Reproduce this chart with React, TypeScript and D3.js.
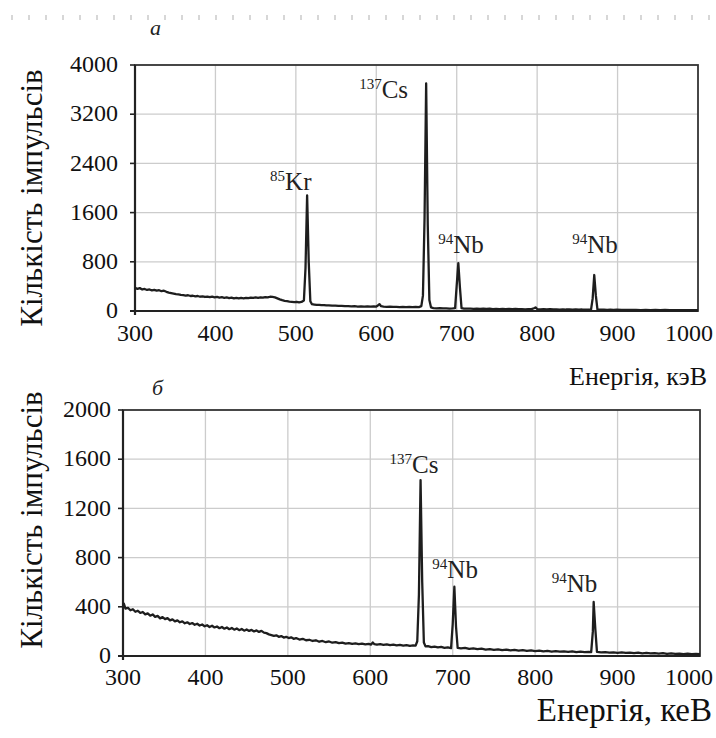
import React from "react";
import * as d3 from "d3";

// ---------- DATA ----------
const energyTicks = [300, 400, 500, 600, 700, 800, 900, 1000];
const countTicksA = [0, 800, 1600, 2400, 3200, 4000];
const countTicksB = [0, 400, 800, 1200, 1600, 2000];

// spectrum (a): [energy keV, counts]
const spectrumA: [number, number][] = [
  [300, 375], [303, 360], [306, 372], [309, 350], [312, 358], [315, 342], [318, 350], [321, 336],
  [324, 344], [327, 330], [330, 338], [333, 322], [336, 330], [339, 312], [342, 300], [345, 292],
  [348, 284], [351, 276], [354, 270], [357, 262], [360, 258], [363, 250], [366, 256], [369, 244],
  [372, 248], [375, 238], [378, 244], [381, 232], [384, 238], [387, 228], [390, 234], [393, 224],
  [396, 232], [399, 222], [402, 228], [405, 218], [408, 224], [411, 214], [414, 220], [417, 210],
  [420, 218], [423, 206], [426, 214], [429, 204], [432, 212], [435, 206], [438, 214], [441, 208],
  [444, 218], [447, 212], [450, 220], [453, 214], [456, 222], [459, 216], [462, 226], [465, 220],
  [468, 232], [471, 228], [474, 222], [477, 206], [480, 190], [483, 176], [486, 166], [489, 160],
  [492, 154], [495, 150], [498, 146], [501, 150], [504, 142], [507, 148], [510, 170], [512, 700],
  [514, 1880], [516, 800], [518, 160], [520, 110], [523, 104], [526, 98], [529, 100], [532, 94],
  [535, 96], [538, 90], [541, 92], [545, 86], [549, 88], [553, 82], [557, 84], [561, 78],
  [565, 80], [569, 76], [573, 78], [577, 72], [581, 75], [585, 70], [589, 73], [593, 70],
  [597, 74], [600, 72], [602, 90], [604, 112], [606, 78], [609, 70], [613, 68], [617, 70],
  [621, 66], [625, 68], [629, 64], [633, 66], [637, 62], [641, 65], [645, 62], [649, 66],
  [653, 64], [656, 80], [658, 250], [660, 1500], [662, 3700], [664, 1400], [666, 180], [668, 60],
  [671, 48], [675, 44], [679, 46], [683, 42], [687, 44], [691, 40], [695, 42], [698, 46],
  [700, 420], [702, 780], [704, 380], [706, 48], [709, 40], [713, 38], [717, 40], [721, 36],
  [725, 38], [729, 36], [733, 40], [737, 34], [741, 38], [745, 32], [749, 36], [753, 32],
  [757, 35], [761, 30], [765, 34], [769, 30], [773, 33], [777, 29], [781, 32], [785, 28],
  [789, 31], [793, 30], [796, 45], [798, 58], [800, 32], [804, 28], [808, 30], [812, 26],
  [816, 29], [820, 25], [824, 28], [828, 24], [832, 27], [836, 24], [840, 26], [844, 22],
  [848, 25], [852, 22], [856, 24], [860, 21], [864, 24], [867, 22], [869, 200], [871, 585],
  [873, 250], [875, 24], [879, 20], [883, 22], [887, 19], [891, 21], [895, 18], [899, 20],
  [905, 17], [911, 19], [917, 16], [923, 18], [929, 15], [935, 17], [941, 15], [947, 16],
  [953, 14], [959, 16], [965, 13], [971, 15], [977, 13], [983, 14], [989, 12], [995, 14], [1000, 13],
];

// spectrum (б)
const spectrumB: [number, number][] = [
  [300, 395], [301, 425], [303, 385], [306, 392], [309, 372], [312, 380], [315, 360], [318, 368],
  [321, 350], [324, 358], [327, 338], [330, 346], [333, 328], [336, 338], [339, 318], [342, 326],
  [345, 306], [348, 316], [351, 300], [354, 308], [357, 290], [360, 298], [363, 282], [366, 290],
  [369, 274], [372, 282], [375, 266], [378, 274], [381, 260], [384, 268], [387, 254], [390, 262],
  [393, 248], [396, 256], [399, 242], [402, 250], [405, 236], [408, 246], [411, 232], [414, 240],
  [417, 226], [420, 236], [423, 222], [426, 232], [429, 218], [432, 228], [435, 214], [438, 224],
  [441, 210], [444, 220], [447, 206], [450, 216], [453, 204], [456, 212], [459, 200], [462, 208],
  [465, 196], [468, 204], [471, 190], [474, 186], [477, 176], [480, 170], [483, 164], [486, 168],
  [489, 156], [492, 162], [495, 150], [498, 156], [501, 146], [504, 152], [507, 140], [510, 146],
  [514, 134], [518, 140], [522, 128], [526, 132], [530, 122], [534, 128], [538, 116], [542, 122],
  [546, 112], [550, 118], [554, 108], [558, 112], [562, 104], [566, 108], [570, 100], [574, 104],
  [578, 98], [582, 102], [586, 96], [590, 100], [594, 94], [598, 98], [601, 92], [603, 110],
  [605, 96], [608, 92], [612, 96], [616, 90], [620, 94], [624, 88], [628, 92], [632, 86],
  [636, 90], [640, 84], [644, 88], [648, 82], [652, 86], [655, 84], [657, 120], [659, 500],
  [661, 1430], [663, 600], [665, 110], [667, 78], [670, 80], [674, 72], [678, 76], [682, 70],
  [686, 74], [690, 66], [694, 70], [698, 64], [700, 260], [702, 563], [704, 240], [706, 66],
  [710, 62], [715, 66], [720, 58], [725, 62], [730, 56], [735, 60], [740, 52], [745, 56],
  [750, 50], [755, 54], [760, 48], [765, 52], [770, 46], [775, 50], [780, 44], [785, 48],
  [790, 42], [795, 46], [800, 40], [805, 44], [810, 38], [815, 42], [820, 36], [825, 40],
  [830, 36], [835, 38], [840, 34], [845, 38], [850, 32], [855, 36], [860, 32], [865, 34],
  [868, 32], [870, 200], [871, 439], [873, 220], [875, 34], [880, 30], [885, 32], [890, 28],
  [895, 30], [900, 26], [905, 30], [910, 26], [915, 28], [920, 24], [925, 28], [930, 22],
  [935, 26], [940, 22], [945, 24], [950, 20], [955, 24], [960, 18], [965, 22], [970, 18],
  [975, 20], [980, 16], [985, 20], [990, 16], [995, 18], [1000, 16],
];

// peak labels: [mass number, element, energy, counts]
const peaksA: [string, string, number, number][] = [
  ["85", "Kr", 514, 1880],
  ["137", "Cs", 662, 3700],
  ["94", "Nb", 702, 780],
  ["94", "Nb", 871, 585],
];
const peaksB: [string, string, number, number][] = [
  ["137", "Cs", 661, 1430],
  ["94", "Nb", 702, 563],
  ["94", "Nb", 871, 439],
];

const yTitle = "Кількість імпульсів";
const xTitleA = "Енергія, кэВ";
const xTitleB = "Енергія, кеВ";
const panelTitleA = "а";
const panelTitleB = "б";

// ---------- LAYOUT ----------
const W = 716;
const H = 738;
const FONT = "'Liberation Serif', 'Times New Roman', serif";

// label offsets (px) relative to peak top: [dx of text start, dy of baseline]
const labelOffsetsA: [number, number][] = [[-37, -5], [-67, 15], [-20, -10], [-22, -22]];
const labelOffsetsB: [number, number][] = [[-31, -7], [-22, -9], [-42, -10]];

type PanelProps = {
  data: [number, number][];
  yTicks: number[];
  yMax: number;
  left: number;
  right: number;
  top: number;
  bottom: number;
  peaks: [string, string, number, number][];
  offsets: [number, number][];
  tickLabelRight: number;
  xLabelBaseline: number;
};

function Panel(p: PanelProps) {
  const x = d3.scaleLinear().domain([300, 1000]).range([p.left, p.right]);
  const y = d3.scaleLinear().domain([0, p.yMax]).range([p.bottom, p.top]);
  const line = d3
    .line<[number, number]>()
    .x((d) => x(d[0]))
    .y((d) => y(d[1]));
  return (
    <g>
      {energyTicks.slice(1, -1).map((t) => (
        <line key={"vx" + t} x1={x(t)} x2={x(t)} y1={p.top} y2={p.bottom} stroke="#cccccc" strokeWidth={1.3} />
      ))}
      {p.yTicks.slice(1, -1).map((t) => (
        <line key={"hy" + t} x1={p.left} x2={p.right} y1={y(t)} y2={y(t)} stroke="#cccccc" strokeWidth={1.3} />
      ))}
      <rect x={p.left} y={p.top} width={p.right - p.left} height={p.bottom - p.top} fill="none" stroke="#333" strokeWidth={1.8} />
      <line x1={p.left} x2={p.left} y1={p.top} y2={p.bottom + 4} stroke="#222" strokeWidth={2.2} />
      <line x1={p.left - 5} x2={p.right} y1={p.bottom} y2={p.bottom} stroke="#222" strokeWidth={2.2} />
      {p.yTicks.map((t) => (
        <line key={"ty" + t} x1={p.left - 5} x2={p.left} y1={y(t)} y2={y(t)} stroke="#222" strokeWidth={1.6} />
      ))}
      <path d={line(p.data) || ""} fill="none" stroke="#1e1e1e" strokeWidth={2.3} strokeLinejoin="round" />
      {p.yTicks.map((t) => (
        <text key={"ly" + t} x={p.tickLabelRight} y={y(t)} dy="0.3em" textAnchor="end" fontSize={24} fontFamily={FONT} fill="#111">
          {t}
        </text>
      ))}
      {energyTicks.map((t, i) => {
        const last = i === energyTicks.length - 1;
        return (
          <text
            key={"lx" + t}
            x={last ? Math.min(x(t) + 22, 713) : x(t)}
            y={p.xLabelBaseline}
            textAnchor={last ? "end" : "middle"}
            fontSize={24}
            fontFamily={FONT}
            fill="#111"
          >
            {t}
          </text>
        );
      })}
      {p.peaks.map((pk, i) => (
        <text key={"pk" + i} x={x(pk[2]) + p.offsets[i][0]} y={y(pk[3]) + p.offsets[i][1]} fontFamily={FONT} fill="#222">
          <tspan fontSize={15} dy={-9}>{pk[0]}</tspan>
          <tspan fontSize={25} dy={9}>{pk[1]}</tspan>
        </text>
      ))}
    </g>
  );
}

export default function App() {
  const dots = d3.range(12, W, 17);
  return (
    <svg width={W} height={H} style={{ position: "absolute", left: 0, top: 0, background: "#fff" }}>
      <rect width={W} height={H} fill="#fff" />
      {dots.map((d) => (
        <line key={d} x1={d} x2={d} y1={15} y2={20} stroke="#bdbdbd" strokeWidth={1.2} />
      ))}
      <text x={150} y={35} fontSize={22} fontStyle="italic" fontFamily={FONT} fill="#222">
        {panelTitleA}
      </text>
      <Panel
        data={spectrumA}
        yTicks={countTicksA}
        yMax={4000}
        left={135}
        right={698}
        top={65}
        bottom={311}
        peaks={peaksA}
        offsets={labelOffsetsA}
        tickLabelRight={118}
        xLabelBaseline={341}
      />
      <text x={707} y={385} textAnchor="end" fontSize={26} fontFamily={FONT} fill="#111">
        {xTitleA}
      </text>
      <text transform="translate(42,198) rotate(-90)" textAnchor="middle" fontSize={31} fontFamily={FONT} fill="#111">
        {yTitle}
      </text>
      <text x={152} y={395} fontSize={22} fontStyle="italic" fontFamily={FONT} fill="#222">
        {panelTitleB}
      </text>
      <Panel
        data={spectrumB}
        yTicks={countTicksB}
        yMax={2000}
        left={123}
        right={700}
        top={410}
        bottom={656}
        peaks={peaksB}
        offsets={labelOffsetsB}
        tickLabelRight={111}
        xLabelBaseline={685}
      />
      <text transform="translate(42,520) rotate(-90)" textAnchor="middle" fontSize={31} fontFamily={FONT} fill="#111">
        {yTitle}
      </text>
      <text x={712} y={721} textAnchor="end" fontSize={33} fontFamily={FONT} fill="#111">
        {xTitleB}
      </text>
    </svg>
  );
}
